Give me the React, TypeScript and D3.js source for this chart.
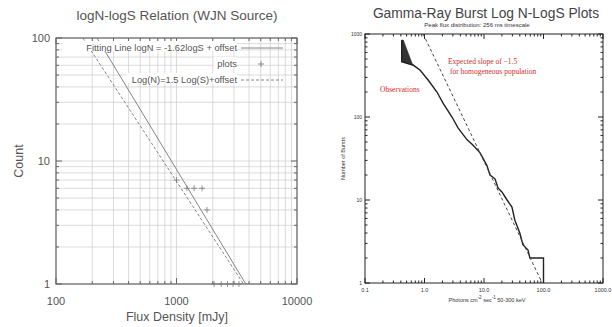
import React from 'react';
import * as d3 from 'd3';

// left panel: logN-logS (WJN source)
const fitLine = [[219, 100], [3760, 1]]; // slope -1.62
const refLine = [[167, 100], [3600, 1]]; // slope -1.5
const wjnPoints = [[1000, 7], [1220, 6], [1400, 6], [1630, 6], [1790, 4],
  [2050, 1], [2350, 1], [2650, 1], [2950, 1], [3300, 1]];
const leftXTicks = [100, 1000, 10000];
const leftYTicks = [1, 10, 100];
const legendItems = ['Fitting Line logN = -1.62logS + offset', 'plots', 'Log(N)=1.5 Log(S)+offset'];

// right panel: BATSE gamma-ray bursts
const obsLine = [[0.414, 847], [0.414, 464], [0.64, 423], [0.84, 368], [1.15, 279], [1.62, 200],
  [2.05, 147], [2.9, 100], [3.66, 74], [5.2, 53], [6.5, 46], [8.6, 37], [11.2, 26], [12.6, 20],
  [15.3, 18], [17.2, 14], [20, 12.5], [24.4, 10], [29.5, 8.2], [33, 5.7], [40, 4], [45, 2.9],
  [55, 2.5], [59, 2], [100, 2], [100, 1]];
const obsBand = [[0.414, 847], [0.44, 847], [0.62, 440], [0.84, 368], [0.64, 420], [0.414, 464]];
const expectedLine = [[0.95, 1000], [95, 1]];
const rightXTicks = [0.1, 1, 10, 100, 1000];
const rightXLabels = ['0.1', '1.0', '10.0', '100.0', '1000.0'];
const rightYTicks = [1, 10, 100, 1000];

const minors = (lo: number, hi: number) => {
  const out: number[] = [];
  for (let d = lo; d < hi; d *= 10) for (let k = 2; k <= 9; k++) out.push(d * k);
  return out;
};

export default function App() {
  const xL = d3.scaleLog().domain([100, 10000]).range([56, 297]);
  const yL = d3.scaleLog().domain([1, 100]).range([284, 38]);
  const xR = d3.scaleLog().domain([0.1, 1000]).range([365, 603]);
  const yR = d3.scaleLog().domain([1, 1000]).range([283, 34]);

  const lineL = d3.line<number[]>().x(d => xL(d[0])).y(d => yL(d[1]));
  const lineR = d3.line<number[]>().x(d => xR(d[0])).y(d => yR(d[1]));

  const gray = '#666';
  const grid = '#ccc';
  const sans = 'Liberation Sans, Arial, sans-serif';
  const serif = 'Liberation Serif, Times New Roman, serif';

  const lxMinor = minors(100, 10000);
  const lyMinor = minors(1, 100);
  const rxMinor = minors(0.1, 1000);
  const ryMinor = minors(1, 1000);

  return (
    <svg width={612} height={327} style={{ position: 'absolute', left: 0, top: 0, background: '#fff' }}>
      {/* ---------- left panel ---------- */}
      <text x={177} y={20} textAnchor="middle" fontFamily={sans} fontSize={13.5} fill="#555">logN-logS Relation (WJN Source)</text>
      <g>
        {[...lxMinor, ...leftXTicks].map((v, i) => (
          <line key={'gx' + i} x1={xL(v)} x2={xL(v)} y1={yL(1)} y2={yL(100)} stroke={grid} strokeWidth={0.7} />
        ))}
        {[...lyMinor, ...leftYTicks].map((v, i) => (
          <line key={'gy' + i} y1={yL(v)} y2={yL(v)} x1={xL(100)} x2={xL(10000)} stroke={grid} strokeWidth={0.7} />
        ))}
        {lxMinor.map((v, i) => (
          <g key={'tx' + i}>
            <line x1={xL(v)} x2={xL(v)} y1={yL(1)} y2={yL(1) - 3} stroke={gray} />
            <line x1={xL(v)} x2={xL(v)} y1={yL(100)} y2={yL(100) + 3} stroke={gray} />
          </g>
        ))}
        {leftXTicks.map((v, i) => (
          <g key={'mx' + i}>
            <line x1={xL(v)} x2={xL(v)} y1={yL(1)} y2={yL(1) - 6} stroke={gray} />
            <line x1={xL(v)} x2={xL(v)} y1={yL(100)} y2={yL(100) + 6} stroke={gray} />
            <text x={xL(v)} y={305} textAnchor="middle" fontFamily={sans} fontSize={11} fill="#555">{v}</text>
          </g>
        ))}
        {lyMinor.map((v, i) => (
          <g key={'ty' + i}>
            <line y1={yL(v)} y2={yL(v)} x1={xL(100)} x2={xL(100) + 3} stroke={gray} />
            <line y1={yL(v)} y2={yL(v)} x1={xL(10000)} x2={xL(10000) - 3} stroke={gray} />
          </g>
        ))}
        {leftYTicks.map((v, i) => (
          <g key={'my' + i}>
            <line y1={yL(v)} y2={yL(v)} x1={xL(100)} x2={xL(100) + 6} stroke={gray} />
            <line y1={yL(v)} y2={yL(v)} x1={xL(10000)} x2={xL(10000) - 6} stroke={gray} />
            <text x={50} y={yL(v) + 4} textAnchor="end" fontFamily={sans} fontSize={11} fill="#555">{v}</text>
          </g>
        ))}
        <rect x={xL(100)} y={yL(100)} width={xL(10000) - xL(100)} height={yL(1) - yL(100)} fill="none" stroke={gray} strokeWidth={1.2} />
        <text transform={`translate(23,${(yL(1) + yL(100)) / 2}) rotate(-90)`} textAnchor="middle" fontFamily={sans} fontSize={12.5} fill="#555">Count</text>
        <text x={177} y={321} textAnchor="middle" fontFamily={sans} fontSize={12.5} fill="#555">Flux Density [mJy]</text>

        <path d={lineL(fitLine) || ''} fill="none" stroke="#777" strokeWidth={0.9} />
        <path d={lineL(refLine) || ''} fill="none" stroke="#777" strokeWidth={0.9} strokeDasharray="3,2" />
        {wjnPoints.map((p, i) => (
          <path key={'p' + i} d={`M${xL(p[0]) - 3},${yL(p[1])}h6M${xL(p[0])},${yL(p[1]) - 3}v6`} stroke="#777" strokeWidth={0.8} />
        ))}

        {legendItems.map((t, i) => {
          const y = 48 + i * 16;
          return (
            <g key={'lg' + i}>
              <rect x={237 - t.length * 4.6} y={y - 7} width={t.length * 4.6} height={10} fill="#fff" />
              <text x={237} y={y + 3} textAnchor="end" fontFamily={sans} fontSize={9.3} fill="#555">{t}</text>
              {i === 1 ? (
                <path d={`M258,${y}h6M261,${y - 3}v6`} stroke="#777" strokeWidth={0.8} />
              ) : (
                <line x1={241} x2={283} y1={y} y2={y} stroke="#777" strokeWidth={0.9} strokeDasharray={i === 2 ? '3,2' : undefined} />
              )}
            </g>
          );
        })}
      </g>

      {/* ---------- right panel ---------- */}
      <text x={486} y={18} textAnchor="middle" fontFamily={sans} fontSize={13.8} fill="#444">Gamma-Ray Burst Log N-LogS Plots</text>
      <text x={477} y={27} textAnchor="middle" fontFamily={sans} fontSize={6} fill="#333">Peak flux distribution: 256 ms timescale</text>
      <g>
        {rxMinor.map((v, i) => (
          <g key={'rtx' + i}>
            <line x1={xR(v)} x2={xR(v)} y1={yR(1)} y2={yR(1) - 2.5} stroke="#222" />
            <line x1={xR(v)} x2={xR(v)} y1={yR(1000)} y2={yR(1000) + 2.5} stroke="#222" />
          </g>
        ))}
        {rightXTicks.map((v, i) => (
          <g key={'rmx' + i}>
            <line x1={xR(v)} x2={xR(v)} y1={yR(1)} y2={yR(1) - 5} stroke="#222" />
            <line x1={xR(v)} x2={xR(v)} y1={yR(1000)} y2={yR(1000) + 5} stroke="#222" />
            <text x={xR(v)} y={292} textAnchor="middle" fontFamily={sans} fontSize={5.5} fill="#333">{rightXLabels[i]}</text>
          </g>
        ))}
        {ryMinor.map((v, i) => (
          <g key={'rty' + i}>
            <line y1={yR(v)} y2={yR(v)} x1={xR(0.1)} x2={xR(0.1) + 2.5} stroke="#222" />
            <line y1={yR(v)} y2={yR(v)} x1={xR(1000)} x2={xR(1000) - 2.5} stroke="#222" />
          </g>
        ))}
        {rightYTicks.map((v, i) => (
          <g key={'rmy' + i}>
            <line y1={yR(v)} y2={yR(v)} x1={xR(0.1)} x2={xR(0.1) + 5} stroke="#222" />
            <line y1={yR(v)} y2={yR(v)} x1={xR(1000)} x2={xR(1000) - 5} stroke="#222" />
            <text x={362} y={yR(v) + 2} textAnchor="end" fontFamily={sans} fontSize={5} fill="#333">{v}</text>
          </g>
        ))}
        <rect x={xR(0.1)} y={yR(1000)} width={xR(1000) - xR(0.1)} height={yR(1) - yR(1000)} fill="none" stroke="#222" strokeWidth={1} />
        <text transform={`translate(345,${(yR(1) + yR(1000)) / 2}) rotate(-90)`} textAnchor="middle" fontFamily={sans} fontSize={5.5} fill="#333">Number of Bursts</text>
        <text x={487} y={302} textAnchor="middle" fontFamily={sans} fontSize={5.5} fill="#333">
          Photons cm<tspan dy={-3} fontSize={4.5}>-2</tspan><tspan dy={3}> sec</tspan><tspan dy={-3} fontSize={4.5}>-1</tspan><tspan dy={3}>  50-300 keV</tspan>
        </text>

        <path d={lineR(obsBand) + 'Z'} fill="#333" stroke="#333" strokeWidth={0.6} />
        <path d={lineR(obsLine) || ''} fill="none" stroke="#222" strokeWidth={1.4} />
        <path d={lineR(expectedLine) || ''} fill="none" stroke="#444" strokeWidth={1} strokeDasharray="3,2.5" />

        <text x={448} y={64} fontFamily={serif} fontSize={7.5} fill="#e02828">Expected slope of −1.5</text>
        <text x={450} y={74} fontFamily={serif} fontSize={7.5} fill="#e02828">for homogeneous population</text>
        <text x={380} y={92} fontFamily={serif} fontSize={7.5} fill="#e02828">Observations</text>
      </g>
    </svg>
  );
}
